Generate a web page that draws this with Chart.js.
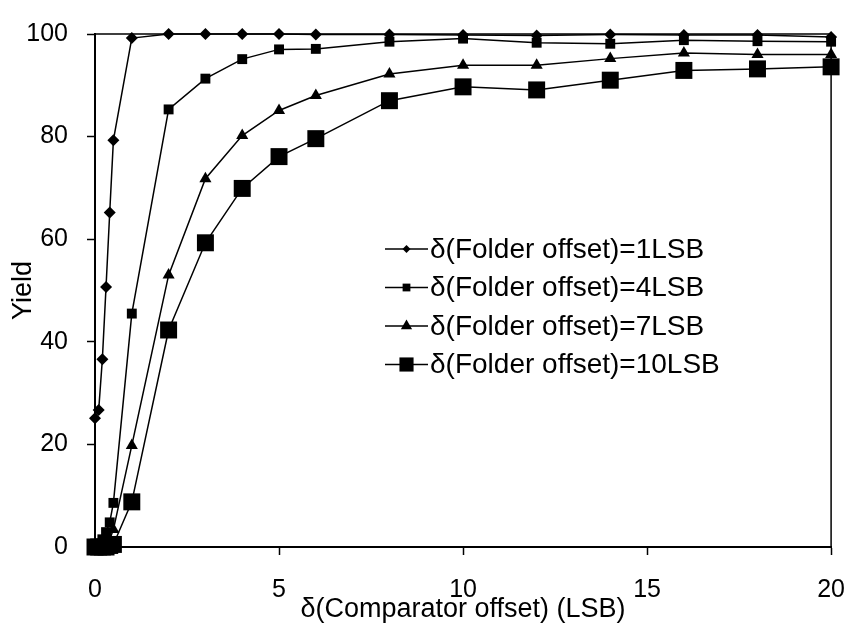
<!DOCTYPE html>
<html>
<head>
<meta charset="utf-8">
<script src="https://cdn.jsdelivr.net/npm/chart.js@4"></script>
<style>
  html, body { margin: 0; padding: 0; background: #fff; }
  #wrap { width: 865px; height: 626px; }
</style>
</head>
<body>
<div id="wrap"><canvas id="myChart" width="865" height="626"></canvas></div>
<script>
// comparator offset (LSB)
var xvals = [0, 0.1, 0.2, 0.3, 0.4, 0.5, 1, 2, 3, 4, 5, 6, 8, 10, 12, 14, 16, 18, 20];
// yield for each folder offset
var yield1 = [25.1, 26.7, 36.6, 50.7, 65.2, 79.3, 99.2, 100, 100, 100, 100, 99.9, 99.9, 99.8, 99.7, 99.9, 99.8, 99.8, 99.4];
var yield4 = [0, 0.5, 1.5, 2.9, 4.8, 8.6, 45.5, 85.3, 91.3, 95.1, 97.0, 97.1, 98.5, 99.1, 98.3, 98.1, 98.8, 98.6, 98.5];
var yield7 = [0, 0, 0.3, 0.8, 1.5, 3.4, 19.8, 53.0, 71.8, 80.2, 85.1, 88.0, 92.2, 93.9, 93.9, 95.2, 96.3, 96.0, 96.0];
var yield10 = [0, 0, 0, 0, 0.3, 0.5, 8.8, 42.3, 59.3, 69.9, 76.1, 79.6, 87.0, 89.7, 89.1, 91.0, 92.9, 93.2, 93.6];
var names = ['\u03b4(Folder offset)=1LSB', '\u03b4(Folder offset)=4LSB', '\u03b4(Folder offset)=7LSB', '\u03b4(Folder offset)=10LSB'];
var xticks = [0, 5, 10, 15, 20];
var yticks = [0, 20, 40, 60, 80, 100];

var FONT = "'Liberation Sans', Arial, sans-serif";

function pts(ys) {
    var out = [];
    for (var i = 0; i < xvals.length; i++) out.push({x: xvals[i], y: ys[i]});
    return out;
}

function mkset(label, ys, style, r, lr) {
    return {
        label: label,
        data: pts(ys),
        showLine: true,
        borderColor: '#000',
        backgroundColor: '#000',
        borderWidth: 1.5,
        pointStyle: style,
        pointRadius: r,
        pointHoverRadius: r,
        pointBorderWidth: 0,
        legendRadius: lr,
        clip: false
    };
}

// box round the plot area
var frame = {
    id: 'frame',
    beforeDatasetsDraw: function(chart) {
        var a = chart.chartArea, ctx = chart.ctx;
        ctx.save();
        ctx.strokeStyle = '#000';
        ctx.lineWidth = 1.5;
        ctx.strokeRect(a.left, a.top, a.right - a.left, a.bottom - a.top);
        ctx.restore();
    }
};

// legend inside the plot
var legendBox = {
    id: 'legendBox',
    afterDraw: function(chart) {
        var ctx = chart.ctx;
        var x0 = 385, x1 = 428, y0 = 249, dy = 38.5;
        ctx.save();
        chart.data.datasets.forEach(function(ds, i) {
            var y = y0 + i * dy;
            ctx.strokeStyle = '#000';
            ctx.lineWidth = 1.5;
            ctx.beginPath();
            ctx.moveTo(x0, y);
            ctx.lineTo(x1, y);
            ctx.stroke();
            ctx.fillStyle = '#000';
            Chart.helpers.drawPoint(ctx, {pointStyle: ds.pointStyle, radius: ds.legendRadius, rotation: 0, borderWidth: 0}, (x0 + x1) / 2, y);
            ctx.fillStyle = '#000';
            ctx.font = '28px ' + FONT;
            ctx.textAlign = 'left';
            ctx.textBaseline = 'middle';
            ctx.fillText(ds.label, x1 + 2, y + 1);
        });
        ctx.restore();
    }
};

var ctx = document.getElementById('myChart').getContext('2d');
var chart = new Chart(ctx, {
    type: 'scatter',
    data: {
        datasets: [
            mkset(names[0], yield1, 'rectRot', 6, 4),
            mkset(names[1], yield4, 'rect', 7, 5.5),
            mkset(names[2], yield7, 'triangle', 7, 6.5),
            mkset(names[3], yield10, 'rect', 12, 10)
        ]
    },
    options: {
        responsive: false,
        animation: false,
        layout: { padding: { top: 22, right: 20, left: 0, bottom: 0 } },
        plugins: { legend: { display: false }, tooltip: { enabled: false } },
        scales: {
            x: {
                type: 'linear',
                min: 0, max: 20,
                afterFit: function(s) { s.height = 79; },
                afterBuildTicks: function(s) { s.ticks = xticks.map(function(v) { return {value: v}; }); },
                grid: { display: true, drawOnChartArea: false, drawTicks: true, tickLength: 8, tickWidth: 1.5, tickColor: '#000' },
                border: { display: true, color: '#000', width: 2 },
                ticks: { color: '#000', padding: 20, maxRotation: 0, font: { family: FONT, size: 25 } },
                title: { display: true, text: '\u03b4(Comparator offset) (LSB)', color: '#000', font: { family: FONT, size: 27 }, padding: { top: 0, bottom: 0 } }
            },
            y: {
                type: 'linear',
                min: 0, max: 100,
                afterFit: function(s) { s.width = 95; },
                afterBuildTicks: function(s) { s.ticks = yticks.map(function(v) { return {value: v}; }); },
                grid: { display: true, drawOnChartArea: false, drawTicks: true, tickLength: 8, tickWidth: 1.5, tickColor: '#000' },
                border: { display: true, color: '#000', width: 2 },
                ticks: { color: '#000', padding: 19, font: { family: FONT, size: 25 } },
                title: { display: true, text: 'Yield', color: '#000', font: { family: FONT, size: 27 }, padding: { top: 7, bottom: 0 } }
            }
        }
    },
    plugins: [frame, legendBox]
});
</script>
</body>
</html>
